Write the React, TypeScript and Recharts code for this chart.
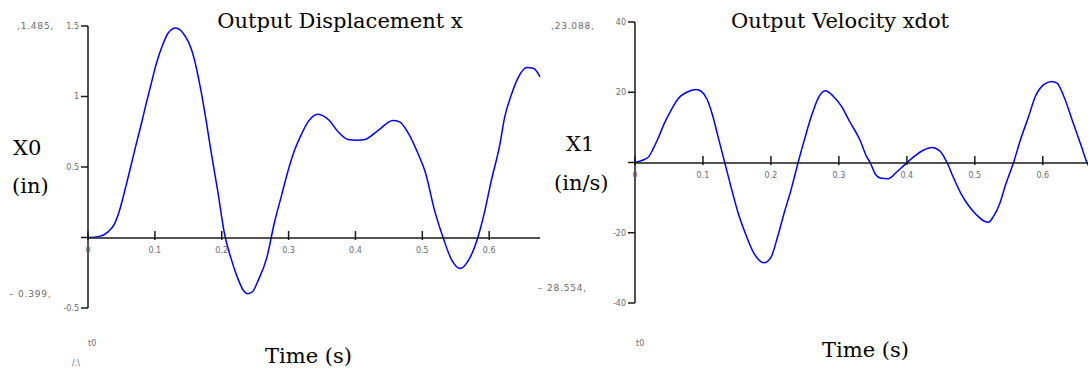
import { LineChart, Line, XAxis, YAxis } from 'recharts';

// displacement x (in) against time (s)
const dispTime = [
    0, 0.017, 0.03, 0.04, 0.047, 0.057, 0.072, 0.08, 0.087, 0.095, 0.102, 0.112, 0.12, 0.131, 0.142,
    0.157, 0.169, 0.177, 0.184, 0.194, 0.204, 0.214, 0.224, 0.233, 0.239, 0.246, 0.254, 0.267, 0.279,
    0.289, 0.299, 0.309, 0.319, 0.329, 0.344, 0.361, 0.374, 0.389, 0.402, 0.414, 0.434, 0.456, 0.466,
    0.479, 0.494, 0.504, 0.519, 0.531, 0.544, 0.557, 0.568, 0.583, 0.593, 0.603, 0.616, 0.623, 0.633,
    0.643, 0.656, 0.666, 0.676
];
const dispX0 = [
    0, 0.008, 0.04, 0.1, 0.19, 0.37, 0.66, 0.81, 0.95, 1.1, 1.23, 1.37, 1.45, 1.485, 1.45,
    1.3, 1.04, 0.82, 0.61, 0.33, 0.03, -0.15, -0.29, -0.38, -0.399, -0.385, -0.31, -0.15, 0.11,
    0.29, 0.47, 0.62, 0.73, 0.82, 0.875, 0.83, 0.75, 0.695, 0.69, 0.695, 0.76, 0.83, 0.82,
    0.74, 0.59, 0.47, 0.18, 0, -0.16, -0.22, -0.17, 0, 0.18, 0.4, 0.66, 0.85, 1.01,
    1.13, 1.205, 1.2, 1.14
];

// velocity xdot (in/s) against time (s)
const velTime = [
    0, 0.012, 0.02, 0.027, 0.034, 0.044, 0.052, 0.064, 0.076, 0.09, 0.098, 0.106, 0.114, 0.122, 0.132,
    0.142, 0.152, 0.162, 0.174, 0.19, 0.2, 0.21, 0.22, 0.23, 0.24, 0.25, 0.26, 0.27, 0.28,
    0.292, 0.304, 0.316, 0.331, 0.341, 0.346, 0.353, 0.361, 0.373, 0.385, 0.397, 0.41, 0.424, 0.437,
    0.449, 0.459, 0.469, 0.48, 0.491, 0.503, 0.515, 0.52, 0.527, 0.537, 0.545, 0.557, 0.567, 0.579,
    0.589, 0.601, 0.613, 0.621, 0.631, 0.645, 0.657, 0.665, 0.668
];
const velX1 = [
    0, 0.7, 1.6, 4, 6.9, 11.5, 14.5, 18.3, 20, 20.8, 20.2, 18, 13.5, 7.5, 0,
    -7.5, -14.5, -20, -25.5, -28.554, -27, -21, -14, -7.5, 0, 7, 13.5, 18.5, 20.4,
    18.8, 15.9, 11.6, 6.4, 1.6, 0, -3.1, -4.4, -4.6, -2.7, -0.6, 1.6, 3.5, 4.3,
    3.2, 0, -4.5, -9, -12.3, -15, -16.8, -17, -15.5, -11.5, -6.5, 0, 6.4, 13,
    18.8, 22.1, 23.088, 22.6, 18.8, 11.1, 4.5, 0, -1.2
];

const timeTicks = [0, 0.1, 0.2, 0.3, 0.4, 0.5, 0.6];
const dispTicks = [-0.5, 0, 0.5, 1, 1.5];
const velTicks = [-40, -20, 0, 20, 40];

const dispRows = dispTime.map((t, i) => ({ t, x0: dispX0[i] }));
const velRows = velTime.map((t, i) => ({ t, x1: velX1[i] }));

const AXIS = '#1a1a1a';
const TICK_FONT = { fontFamily: 'DejaVu Sans', fontSize: 8, fill: '#6a6a6a' };
const RANGE_FONT = { fontFamily: 'DejaVu Sans', fontSize: 9, fill: '#6a6a6a', letterSpacing: 0.8 };
const SERIF = 'DejaVu Serif';

// x axis sits on the zero line: tick marks point up, labels hang below
function TimeTick(props: any) {
    const { x, y, payload } = props;
    return (
        <g>
            <line x1={x} x2={x} y1={y - 7} y2={y + 2} stroke={AXIS} strokeWidth={1.5} />
            <text x={x} y={y + 15} textAnchor="middle" {...TICK_FONT}>
                {payload.value}
            </text>
        </g>
    );
}

const yFmt = (v: number) => (v === 0 ? '' : String(v));

function Labels() {
    return (
        <svg
            width={1088}
            height={371}
            style={{ position: 'absolute', left: 0, top: 0, pointerEvents: 'none' }}
        >
            <g fontFamily={SERIF} fontSize={21} fill="#000">
                <text x={340} y={28} textAnchor="middle">Output Displacement x</text>
                <text x={840} y={28} textAnchor="middle">Output Velocity xdot</text>
                <text x={13} y={155}>X0</text>
                <text x={12} y={193}>(in)</text>
                <text x={566} y={151}>X1</text>
                <text x={554} y={190}>(in/s)</text>
                <text x={265} y={363}>Time (s)</text>
                <text x={822} y={357}>Time (s)</text>
            </g>
            <g {...RANGE_FONT}>
                <text x={17} y={29}>,1.485,</text>
                <text x={9} y={297}>– 0.399,</text>
                <text x={551} y={29}>,23.088,</text>
                <text x={538} y={291}>– 28.554,</text>
            </g>
            <g {...TICK_FONT}>
                <text x={88} y={346}>t0</text>
                <text x={72} y={366}>/.\</text>
                <text x={636} y={346}>t0</text>
            </g>
        </svg>
    );
}

export default function App() {
    return (
        <div
            style={{
                position: 'absolute',
                left: 0,
                top: 0,
                width: 1088,
                height: 371,
                overflow: 'hidden',
                background: '#fff'
            }}
        >
            {/* displacement plot */}
            <div style={{ position: 'absolute', left: 0, top: 0 }}>
                <LineChart width={560} height={371} data={dispRows} margin={{ top: 26, right: 20, bottom: 63, left: 0 }}>
                    <XAxis type="number" dataKey="t" domain={[0, 0.676]} hide />
                    <YAxis
                        type="number"
                        domain={[-0.5, 1.5]}
                        ticks={dispTicks}
                        width={88}
                        tickFormatter={yFmt}
                        tick={TICK_FONT}
                        tickSize={7}
                        tickMargin={2}
                        axisLine={{ stroke: AXIS, strokeWidth: 1.5 }}
                        tickLine={{ stroke: AXIS, strokeWidth: 1.5 }}
                    />
                    <Line
                        type="monotone"
                        dataKey="x0"
                        stroke="#0000ff"
                        strokeWidth={1.5}
                        dot={false}
                        isAnimationActive={false}
                    />
                </LineChart>
            </div>
            <div style={{ position: 'absolute', left: 0, top: 0 }}>
                <LineChart width={560} height={260} data={dispRows} margin={{ top: 0, right: 20, bottom: 0, left: 88 }}>
                    <XAxis
                        type="number"
                        dataKey="t"
                        domain={[0, 0.676]}
                        ticks={timeTicks}
                        height={22}
                        tickSize={0}
                        tickMargin={0}
                        tickLine={false}
                        tick={<TimeTick />}
                        axisLine={{ stroke: AXIS, strokeWidth: 1.5 }}
                    />
                    <YAxis hide />
                </LineChart>
            </div>

            {/* velocity plot */}
            <div style={{ position: 'absolute', left: 545, top: 0 }}>
                <LineChart width={544} height={371} data={velRows} margin={{ top: 22, right: 0, bottom: 68, left: 0 }}>
                    <XAxis type="number" dataKey="t" domain={[0, 0.668]} hide />
                    <YAxis
                        type="number"
                        domain={[-40, 40]}
                        ticks={velTicks}
                        width={90}
                        tickFormatter={yFmt}
                        tick={TICK_FONT}
                        tickSize={7}
                        tickMargin={2}
                        axisLine={{ stroke: AXIS, strokeWidth: 1.5 }}
                        tickLine={{ stroke: AXIS, strokeWidth: 1.5 }}
                    />
                    <Line
                        type="monotone"
                        dataKey="x1"
                        stroke="#0000ff"
                        strokeWidth={1.5}
                        dot={false}
                        isAnimationActive={false}
                    />
                </LineChart>
            </div>
            <div style={{ position: 'absolute', left: 545, top: 0 }}>
                <LineChart width={544} height={185} data={velRows} margin={{ top: 0, right: 0, bottom: 0, left: 90 }}>
                    <XAxis
                        type="number"
                        dataKey="t"
                        domain={[0, 0.668]}
                        ticks={timeTicks}
                        height={22}
                        tickSize={0}
                        tickMargin={0}
                        tickLine={false}
                        tick={<TimeTick />}
                        axisLine={{ stroke: AXIS, strokeWidth: 1.5 }}
                    />
                    <YAxis hide />
                </LineChart>
            </div>

            <Labels />
        </div>
    );
}
